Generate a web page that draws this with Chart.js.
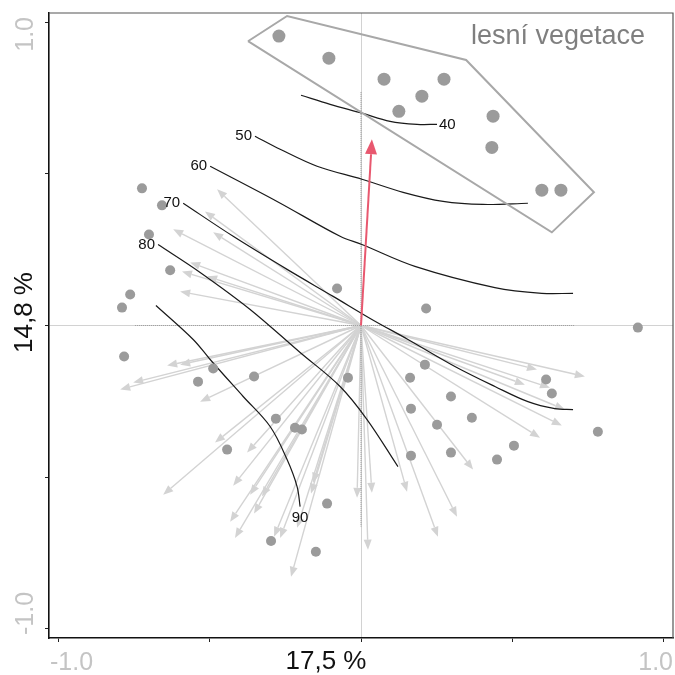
<!DOCTYPE html>
<html>
<head>
<meta charset="utf-8">
<script src="https://cdn.jsdelivr.net/npm/chart.js@4.4.1/dist/chart.umd.min.js"></script>
<style>
  html, body { margin: 0; padding: 0; background: #fff; }
  #wrap { width: 675px; height: 675px; }
</style>
</head>
<body>
<div id="wrap"><canvas id="chart"></canvas></div>
<script>
// axes
const axisMin = -1.03, axisMax = 1.03;
const tickValues = [-1, -0.5, 0, 0.5, 1];
const xTickLabels = ['-1.0', '1.0'];
const yTickLabels = ['-1.0', '1.0'];
const xTitle = '17,5 %';
const yTitle = '14,8 %';
const groupLabel = 'lesní vegetace';

// forest releves (inside the hull)
const forestX = [-0.271, -0.106, 0.076, 0.274, 0.201, 0.125, 0.436, 0.432, 0.597, 0.660];
const forestY = [0.954, 0.881, 0.812, 0.812, 0.756, 0.706, 0.690, 0.587, 0.446, 0.446];

// hull around the forest releves
const hullX = [-0.373, -0.244, 0.347, 0.769, 0.630, -0.373];
const hullY = [0.937, 1.020, 0.875, 0.439, 0.307, 0.937];

// other releves
const siteX = [-0.723, -0.657, -0.700, -0.630, -0.762, -0.789, -0.079, 0.215, 0.914, -0.782,
  -0.488, -0.538, -0.353, -0.043, -0.281, -0.218, -0.195, -0.442, -0.112, -0.297,
  -0.149, 0.211, 0.162, 0.297, 0.165, 0.366, 0.251, 0.611, 0.630, 0.782,
  0.505, 0.449, 0.165, 0.297];
const siteY = [0.452, 0.396, 0.300, 0.182, 0.102, 0.059, 0.122, 0.056, -0.007, -0.102,
  -0.142, -0.185, -0.168, -0.172, -0.307, -0.337, -0.343, -0.409, -0.587, -0.710,
  -0.746, -0.129, -0.172, -0.234, -0.274, -0.304, -0.327, -0.178, -0.224, -0.350,
  -0.396, -0.442, -0.429, -0.419];

// species arrow tips (all start at the origin)
const speciesX = [-0.475, -0.515, -0.620, -0.488, -0.564, -0.591, -0.508, -0.597,
  -0.640, -0.597, -0.752, -0.795, -0.531, -0.482, -0.376, -0.653, -0.422, -0.366, -0.327,
  -0.432, -0.353, -0.416, -0.287, -0.267, -0.231, -0.158, -0.165, -0.211, -0.013,
  0.023, 0.036, 0.152, 0.254, 0.317, 0.370, 0.591, 0.663, 0.673, 0.541, 0.624, 0.581, 0.739];
const speciesY = [0.449, 0.376, 0.317, 0.307, 0.208, 0.178, 0.162, 0.112,
  -0.132, -0.129, -0.188, -0.211, -0.251, -0.386, -0.419, -0.558, -0.528, -0.558, -0.564,
  -0.647, -0.620, -0.700, -0.696, -0.700, -0.828, -0.518, -0.554, -0.667, -0.568,
  -0.739, -0.551, -0.548, -0.696, -0.630, -0.475, -0.370, -0.330, -0.277, -0.195, -0.205, -0.145, -0.168];

// forest vector
const forestVecX = [0, 0.036];
const forestVecY = [0, 0.614];

// isolines
const contourLevels = ['40', '50', '60', '70', '80', '90'];
const contour40X = [-0.198, -0.102, 0.003, 0.096, 0.185, 0.251];
const contour40Y = [0.759, 0.729, 0.700, 0.673, 0.663, 0.663];
const contour50X = [-0.350, -0.267, -0.145, 0.003, 0.139, 0.271, 0.403, 0.551];
const contour50Y = [0.624, 0.581, 0.525, 0.482, 0.439, 0.409, 0.399, 0.403];
const contour60X = [-0.498, -0.277, -0.069, 0.003, 0.178, 0.442, 0.597, 0.700];
const contour60Y = [0.525, 0.409, 0.294, 0.267, 0.195, 0.125, 0.106, 0.106];
const contour70X = [-0.587, -0.422, -0.244, -0.092, 0.036, 0.155, 0.310, 0.442, 0.551, 0.640, 0.700];
const contour70Y = [0.403, 0.294, 0.185, 0.096, 0.020, -0.046, -0.135, -0.201, -0.251, -0.274, -0.277];
const contour80X = [-0.670, -0.531, -0.366, -0.201, -0.069, 0.020, 0.122];
const contour80Y = [0.267, 0.175, 0.053, -0.089, -0.201, -0.310, -0.465];
const contour90X = [-0.677, -0.554, -0.498, -0.389, -0.300, -0.244, -0.211, -0.201];
const contour90Y = [0.066, -0.046, -0.112, -0.234, -0.333, -0.442, -0.531, -0.597];

// darker dotted parts of the zero lines
const zeroDotHX = [-0.746, 0.706];
const zeroDotHY = [0, 0];
const zeroDotVX = [0, 0];
const zeroDotVY = [0.769, -0.663];

const FONT = '"Liberation Sans", Arial, Helvetica, sans-serif';
const zip = (xs, ys) => xs.map((x, i) => ({ x: x, y: ys[i] }));

const contourX = [contour40X, contour50X, contour60X, contour70X, contour80X, contour90X];
const contourY = [contour40Y, contour50Y, contour60Y, contour70Y, contour80Y, contour90Y];

function drawArrow(ctx, x0, y0, x1, y1, color, lw, headLen, headW) {
  const a = Math.atan2(y1 - y0, x1 - x0);
  const bx = x1 - headLen * Math.cos(a);
  const by = y1 - headLen * Math.sin(a);
  ctx.strokeStyle = color;
  ctx.lineWidth = lw;
  ctx.beginPath();
  ctx.moveTo(x0, y0);
  ctx.lineTo(bx, by);
  ctx.stroke();
  ctx.fillStyle = color;
  ctx.beginPath();
  ctx.moveTo(x1, y1);
  ctx.lineTo(bx + headW / 2 * Math.sin(a), by - headW / 2 * Math.cos(a));
  ctx.lineTo(bx - headW / 2 * Math.sin(a), by + headW / 2 * Math.cos(a));
  ctx.closePath();
  ctx.fill();
}

const speciesArrows = {
  id: 'speciesArrows',
  beforeDatasetsDraw(chart) {
    const { ctx, scales: { x, y } } = chart;
    const ox = x.getPixelForValue(0), oy = y.getPixelForValue(0);
    ctx.save();
    speciesX.forEach((sx, i) => {
      drawArrow(ctx, ox, oy, x.getPixelForValue(sx), y.getPixelForValue(speciesY[i]),
        '#d3d3d3', 1.4, 10, 8);
    });
    ctx.restore();
  }
};

const overlay = {
  id: 'overlay',
  afterDatasetsDraw(chart) {
    const { ctx, scales: { x, y } } = chart;
    ctx.save();
    // forest vector
    drawArrow(ctx, x.getPixelForValue(forestVecX[0]), y.getPixelForValue(forestVecY[0]),
      x.getPixelForValue(forestVecX[1]), y.getPixelForValue(forestVecY[1]),
      '#e8586f', 2, 15, 12);

    // isoline labels
    ctx.font = '15px ' + FONT;
    ctx.fillStyle = '#111';
    contourLevels.forEach((lab, i) => {
      const xs = contourX[i], ys = contourY[i];
      if (lab === '40') {
        const n = xs.length - 1;
        ctx.textAlign = 'left';
        ctx.textBaseline = 'middle';
        ctx.fillText(lab, x.getPixelForValue(xs[n]) + 2, y.getPixelForValue(ys[n]) + 1);
      } else if (lab === '90') {
        const n = xs.length - 1;
        ctx.textAlign = 'center';
        ctx.textBaseline = 'top';
        ctx.fillText(lab, x.getPixelForValue(xs[n]), y.getPixelForValue(ys[n]) + 4);
      } else {
        ctx.textAlign = 'right';
        ctx.textBaseline = 'middle';
        ctx.fillText(lab, x.getPixelForValue(xs[0]) - 3, y.getPixelForValue(ys[0]));
      }
    });
    ctx.restore();
  },
  afterDraw(chart) {
    const { ctx, chartArea: a } = chart;
    ctx.save();
    // top and right frame
    ctx.strokeStyle = '#555';
    ctx.lineWidth = 1.2;
    ctx.beginPath();
    ctx.moveTo(a.left, a.top);
    ctx.lineTo(a.right, a.top);
    ctx.lineTo(a.right, a.bottom);
    ctx.stroke();

    // group label
    ctx.font = '27px ' + FONT;
    ctx.fillStyle = '#7f7f7f';
    ctx.textAlign = 'right';
    ctx.textBaseline = 'alphabetic';
    ctx.fillText(groupLabel, a.right - 28, a.top + 31);

    // end tick labels
    ctx.font = '25px ' + FONT;
    ctx.fillStyle = '#c4c4c4';
    ctx.textBaseline = 'middle';
    ctx.textAlign = 'left';
    ctx.fillText(xTickLabels[0], a.left + 1, a.bottom + 25);
    ctx.textAlign = 'right';
    ctx.fillText(xTickLabels[1], a.right, a.bottom + 25);

    ctx.save();
    ctx.translate(26, a.bottom - 3);
    ctx.rotate(-Math.PI / 2);
    ctx.textAlign = 'left';
    ctx.fillText(yTickLabels[0], 0, 0);
    ctx.restore();
    ctx.save();
    ctx.translate(26, a.top + 4);
    ctx.rotate(-Math.PI / 2);
    ctx.textAlign = 'right';
    ctx.fillText(yTickLabels[1], 0, 0);
    ctx.restore();

    // axis titles
    ctx.font = '26px ' + FONT;
    ctx.fillStyle = '#111';
    ctx.textAlign = 'center';
    ctx.fillText(xTitle, (a.left + a.right) / 2 - 35, a.bottom + 24);
    ctx.save();
    ctx.translate(25, (a.top + a.bottom) / 2 - 13);
    ctx.rotate(-Math.PI / 2);
    ctx.fillText(yTitle, 0, 0);
    ctx.restore();
    ctx.restore();
  }
};

const lineDs = (data, color, width, extra) => Object.assign({
  data: data,
  showLine: true,
  borderColor: color,
  borderWidth: width,
  pointRadius: 0,
  fill: false
}, extra || {});

const datasets = [
  { data: zip(forestX, forestY), pointRadius: 6.5, backgroundColor: '#9b9b9b', borderWidth: 0 },
  { data: zip(siteX, siteY), pointRadius: 5, backgroundColor: '#9b9b9b', borderWidth: 0 },
  lineDs(zip(hullX, hullY), '#a8a8a8', 2)
];
contourX.forEach((xs, i) => {
  datasets.push(lineDs(zip(xs, contourY[i]), '#1a1a1a', 1.2, { tension: 0.35 }));
});
datasets.push(lineDs(zip(zeroDotHX, zeroDotHY), '#a0a0a0', 1, { borderDash: [1, 1] }));
datasets.push(lineDs(zip(zeroDotVX, zeroDotVY), '#8a8a8a', 1, { borderDash: [1, 1] }));

const axis = (extra) => Object.assign({
  type: 'linear',
  min: axisMin,
  max: axisMax,
  afterBuildTicks: (sc) => { sc.ticks = tickValues.map(v => ({ value: v })); },
  ticks: { display: false },
  grid: {
    color: (c) => (c.tick && c.tick.value === 0 ? '#d2d2d2' : 'rgba(0,0,0,0)'),
    tickColor: '#222',
    tickLength: 4,
    lineWidth: 1
  },
  border: { display: true, color: '#111', width: 1.6 }
}, extra || {});

new Chart(document.getElementById('chart'), {
  type: 'scatter',
  data: { datasets: datasets },
  options: {
    responsive: true,
    maintainAspectRatio: false,
    animation: false,
    events: [],
    layout: { autoPadding: false, padding: { left: 45, right: 2, top: 13, bottom: 33 } },
    plugins: { legend: { display: false }, tooltip: { enabled: false } },
    scales: { x: axis(), y: axis() }
  },
  plugins: [speciesArrows, overlay]
});
</script>
</body>
</html>
